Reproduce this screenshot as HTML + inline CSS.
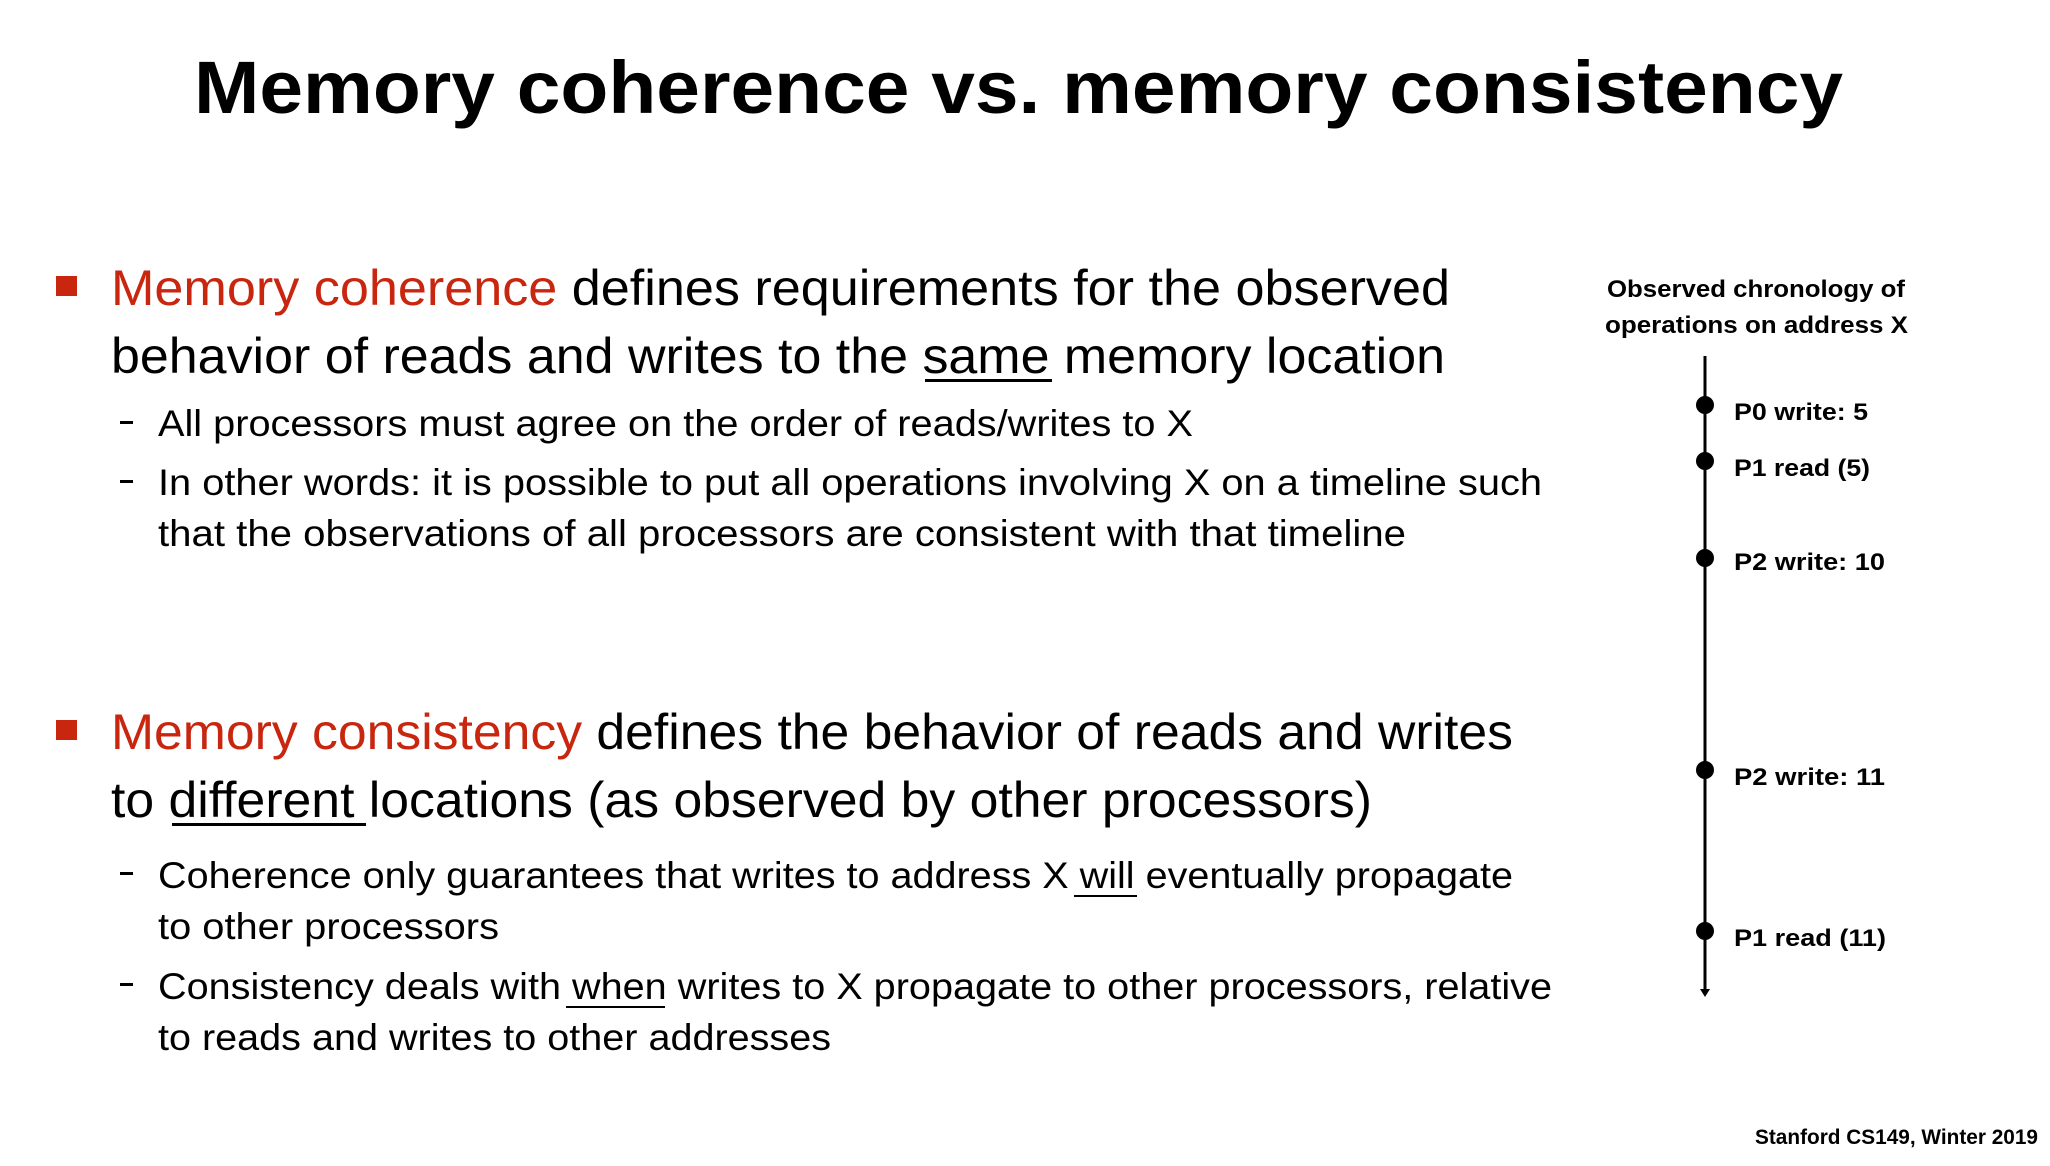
<!DOCTYPE html>
<html><head><meta charset="utf-8"><style>
html,body{margin:0;padding:0;background:#fff;}
svg{display:block;}
text{font-family:"Liberation Sans",sans-serif;fill:#000;}
.t{font-weight:bold;font-size:74px;}
.m{font-size:50px;}
.s{font-size:37px;}
.r{font-size:24px;font-weight:bold;}
.red{fill:#c8260f;}
</style></head><body>
<svg width="2050" height="1166" viewBox="0 0 2050 1166" xmlns="http://www.w3.org/2000/svg">
<text class="t" x="194" y="113" textLength="1649" lengthAdjust="spacingAndGlyphs">Memory coherence vs. memory consistency</text>

<rect x="56" y="276" width="21" height="20" fill="#c8260f"/>
<text class="m" x="111" y="305" textLength="1339" lengthAdjust="spacingAndGlyphs"><tspan class="red">Memory coherence</tspan> defines requirements for the observed</text>
<text class="m" x="111" y="373" textLength="1334" lengthAdjust="spacingAndGlyphs">behavior of reads and writes to the same memory location</text>
<rect x="925" y="379" width="127" height="3" fill="#000"/>

<rect x="120" y="421" width="13" height="3" fill="#000"/>
<text class="s" x="158" y="436" textLength="1035" lengthAdjust="spacingAndGlyphs">All processors must agree on the order of reads/writes to X</text>
<rect x="120" y="480" width="13" height="3" fill="#000"/>
<text class="s" x="158" y="495" textLength="1384" lengthAdjust="spacingAndGlyphs">In other words: it is possible to put all operations involving X on a timeline such</text>
<text class="s" x="158" y="546" textLength="1248" lengthAdjust="spacingAndGlyphs">that the observations of all processors are consistent with that timeline</text>

<rect x="56" y="720" width="21" height="20" fill="#c8260f"/>
<text class="m" x="111" y="749" textLength="1402" lengthAdjust="spacingAndGlyphs"><tspan class="red">Memory consistency</tspan> defines the behavior of reads and writes</text>
<text class="m" x="111" y="817" textLength="1261" lengthAdjust="spacingAndGlyphs">to different locations (as observed by other processors)</text>
<rect x="172" y="823" width="194" height="3" fill="#000"/>

<rect x="120" y="872" width="13" height="3" fill="#000"/>
<text class="s" x="158" y="888" textLength="1355" lengthAdjust="spacingAndGlyphs">Coherence only guarantees that writes to address X will eventually propagate</text>
<rect x="1074" y="895" width="63" height="2" fill="#000"/>
<text class="s" x="158" y="939" textLength="341" lengthAdjust="spacingAndGlyphs">to other processors</text>
<rect x="120" y="983" width="13" height="3" fill="#000"/>
<text class="s" x="158" y="999" textLength="1394" lengthAdjust="spacingAndGlyphs">Consistency deals with when writes to X propagate to other processors, relative</text>
<rect x="566" y="1006" width="99" height="2" fill="#000"/>
<text class="s" x="158" y="1050" textLength="673" lengthAdjust="spacingAndGlyphs">to reads and writes to other addresses</text>

<text class="r" x="1607" y="297" textLength="298" lengthAdjust="spacingAndGlyphs">Observed chronology of</text>
<text class="r" x="1605" y="333" textLength="303" lengthAdjust="spacingAndGlyphs">operations on address X</text>

<line x1="1705" y1="356" x2="1705" y2="992" stroke="#000" stroke-width="3"/>
<polygon points="1700,989 1710,989 1705,997" fill="#000"/>
<circle cx="1705" cy="405" r="9"/>
<circle cx="1705" cy="461" r="9"/>
<circle cx="1705" cy="558" r="9"/>
<circle cx="1705" cy="770" r="9"/>
<circle cx="1705" cy="931" r="9"/>
<text class="r" x="1734" y="420" textLength="134" lengthAdjust="spacingAndGlyphs">P0 write: 5</text>
<text class="r" x="1734" y="476" textLength="136" lengthAdjust="spacingAndGlyphs">P1 read (5)</text>
<text class="r" x="1734" y="570" textLength="151" lengthAdjust="spacingAndGlyphs">P2 write: 10</text>
<text class="r" x="1734" y="785" textLength="151" lengthAdjust="spacingAndGlyphs">P2 write: 11</text>
<text class="r" x="1734" y="946" textLength="152" lengthAdjust="spacingAndGlyphs">P1 read (11)</text>

<text x="1755" y="1144" style="font-size:21px;font-weight:bold" textLength="283" lengthAdjust="spacingAndGlyphs">Stanford CS149, Winter 2019</text>
</svg>
</body></html>
